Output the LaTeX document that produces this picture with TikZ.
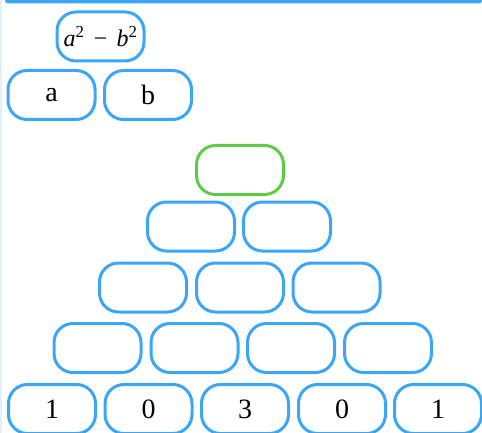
\documentclass[tikz,border=0pt]{standalone}
\usepackage{fontspec}
\setmainfont{Liberation Serif}
\definecolor{bblue}{RGB}{59,166,246}
\definecolor{bgreen}{RGB}{92,203,70}
\definecolor{lblue}{RGB}{225,240,252}
\begin{document}
\begin{tikzpicture}[x=1pt,y=-1pt,
  cell/.style={draw=bblue,line width=3pt,rounded corners=19pt,minimum width=87pt,minimum height=49pt,inner sep=0pt,font=\fontsize{28}{28}\selectfont},
  topcell/.style={cell,draw=bgreen}]
\useasboundingbox (0,0) rectangle (482,433);
\fill[lblue] (0,0) rectangle (1.5,433);
\fill[bblue,rounded corners=3pt] (5,-5) rectangle (482,3.5);
% formula and legend
\node[cell,font=\fontsize{24}{24}\selectfont] (f) at (100.5,36.5) {\itshape a\textsuperscript{\upshape 2}\,\,−\,\,b\textsuperscript{\upshape 2}};
\node[cell] (a) at (51.5,95) {a};
\node[cell] (b) at (148,95) {b};
% pyramid
\node[topcell] (t) at (240,170) {};
\node[cell] (r21) at (191,226.5) {};
\node[cell] (r22) at (287,226.5) {};
\node[cell] (r31) at (143,287.5) {};
\node[cell] (r32) at (240,287.5) {};
\node[cell] (r33) at (336.5,287.5) {};
\node[cell] (r41) at (97.5,348) {};
\node[cell] (r42) at (194.5,348) {};
\node[cell] (r43) at (291,348) {};
\node[cell] (r44) at (388,348) {};
\node[cell] (r51) at (52,409) {1};
\node[cell] (r52) at (148.5,409) {0};
\node[cell] (r53) at (245,409) {3};
\node[cell] (r54) at (342,409) {0};
\node[cell] (r55) at (438,409) {1};
\end{tikzpicture}
\end{document}
